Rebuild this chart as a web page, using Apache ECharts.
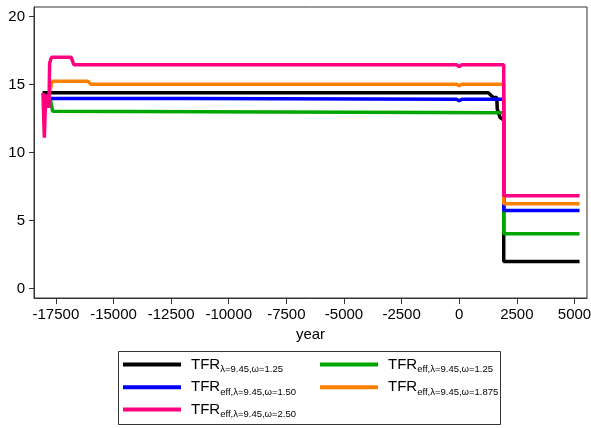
<!DOCTYPE html>
<html><head><meta charset="utf-8">
<script src="https://cdn.jsdelivr.net/npm/echarts@6/dist/echarts.min.js"></script>
<style>html,body{margin:0;padding:0;background:#fff}#c{width:591px;height:428px}</style>
</head><body><div id="c"></div>
<script>
// ---- data ----
const xTicks = [-17500, -15000, -12500, -10000, -7500, -5000, -2500, 0, 2500, 5000];
const yTicks = [0, 5, 10, 15, 20];
const seriesNames = ['TFR λ=9.45,ω=1.25', 'TFR eff,λ=9.45,ω=1.25', 'TFR eff,λ=9.45,ω=1.50', 'TFR eff,λ=9.45,ω=1.875', 'TFR eff,λ=9.45,ω=2.50'];
const legendSubs = ['λ=9.45,ω=1.25', 'eff,λ=9.45,ω=1.25', 'eff,λ=9.45,ω=1.50', 'eff,λ=9.45,ω=1.875', 'eff,λ=9.45,ω=2.50'];
const seriesColors = ['#000000', '#00a600', '#0000ff', '#ff8000', '#ff0080'];

const tfr125 = [[-18080, 14.41], [1260, 14.41], [1480, 14.05], [1630, 14.05], [1650, 13.2], [1770, 12.6], [1930, 12.4], [1930, 2.0], [5220, 2.0]];
const eff125 = [[-17740, 13.9], [-17690, 13.5], [-17640, 13.05], [-17580, 12.94], [1930, 12.94], [1930, 4.04], [5220, 4.04]];
const eff150 = [[-17740, 14.0], [-17650, 13.99], [-11900, 13.99], [-11880, 13.93], [-120, 13.93], [0, 13.82], [120, 13.93], [1930, 13.93], [1930, 5.76], [5220, 5.76]];
const eff1875 = [[-17740, 14.6], [-17690, 15.1], [-17640, 15.25], [-16120, 15.25], [-15975, 15.04], [-120, 15.04], [0, 14.92], [120, 15.04], [1930, 15.04], [1930, 6.25], [5220, 6.25]];
const eff250 = [[-18060, 14.4], [-18000, 11.1], [-17940, 14.3], [-17800, 13.3], [-17770, 16.6], [-17690, 17.02], [-16840, 17.02], [-16720, 16.47], [-120, 16.47], [0, 16.33], [120, 16.47], [1930, 16.47], [1930, 6.84], [5220, 6.84]];
const seriesData = [tfr125, eff125, eff150, eff1875, eff250];

// ---- chart ----
const FONT = '"Liberation Sans", Arial, Helvetica, sans-serif';
const chart = echarts.init(document.getElementById('c'), null, {renderer: 'canvas'});

const legendPos = [
  {left: 123, top: 357},
  {left: 320, top: 357},
  {left: 123, top: 379.7},
  {left: 320, top: 379.7},
  {left: 123, top: 402}
];

const legends = seriesNames.map((n, i) => ({
  data: [n],
  left: legendPos[i].left,
  top: legendPos[i].top,
  padding: 0,
  orient: 'horizontal',
  icon: 'rect',
  itemWidth: 58,
  itemHeight: 4,
  selectedMode: false,
  formatter: () => '{m|TFR}{s|' + legendSubs[i] + '}',
  textStyle: {
    fontFamily: FONT, color: '#000', fontSize: 15,
    rich: {
      m: {fontSize: 15, lineHeight: 20, fontFamily: FONT, color: '#000', padding: [0, 0, 0, 5]},
      s: {fontSize: 9.5, lineHeight: 2, verticalAlign: 'bottom', fontFamily: FONT, color: '#000'}
    }
  }
}));

const option = {
  animation: false,
  backgroundColor: '#fff',
  grid: {left: 34, right: 4, top: 7, bottom: 130, show: true, borderColor: '#333', borderWidth: 1, containLabel: false, outerBoundsMode: 'none'},
  legend: legends,
  graphic: [{
    type: 'rect', left: 116, top: 349, shape: {width: 382, height: 73},
    style: {fill: 'none', stroke: '#333', lineWidth: 1}, silent: true
  }],
  xAxis: {
    type: 'value', min: -18449, max: 5543,
    name: 'year', nameLocation: 'middle', nameGap: 25,
    nameTextStyle: {fontFamily: FONT, fontSize: 15, color: '#000'},
    axisLine: {show: true, onZero: false, lineStyle: {color: '#333', width: 1}},
    axisTick: {show: true, customValues: xTicks, length: 6, lineStyle: {color: '#333'}},
    axisLabel: {show: true, customValues: xTicks, margin: 9, fontFamily: FONT, fontSize: 15, color: '#000', formatter: v => String(v)},
    splitLine: {show: false}
  },
  yAxis: {
    type: 'value', min: -0.68, max: 20.71,
    axisLine: {show: true, onZero: false, lineStyle: {color: '#333', width: 1}},
    axisTick: {show: true, customValues: yTicks, length: 5, lineStyle: {color: '#333'}},
    axisLabel: {show: true, customValues: yTicks, margin: 9, fontFamily: FONT, fontSize: 15, color: '#000', formatter: v => String(v)},
    splitLine: {show: false}
  },
  series: seriesNames.map((n, i) => ({
    name: n, type: 'line', data: seriesData[i],
    symbol: 'none', showSymbol: false,
    lineStyle: {color: seriesColors[i], width: 3.5},
    itemStyle: {color: seriesColors[i]},
    emphasis: {disabled: true},
    silent: true
  }))
};
chart.setOption(option);
</script>
</body></html>
